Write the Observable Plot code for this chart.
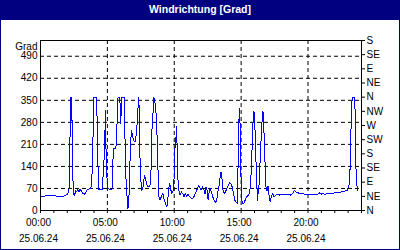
<!DOCTYPE html>
<html><head><meta charset="utf-8">
<script src="https://cdn.jsdelivr.net/npm/d3@7"></script>
<script src="https://cdn.jsdelivr.net/npm/@observablehq/plot@0.6"></script>
<style>
body{margin:0;background:#fff;}
#card{width:400px;height:250px;box-sizing:border-box;border:1px solid #000080;border-top:none;background:#fff;font-family:"Liberation Sans",Arial,sans-serif;overflow:hidden;}
#title{height:20px;background:#000080;color:#fff;font-weight:bold;font-size:10.5px;line-height:19px;text-align:center;}
#chart svg{display:block;}
</style></head><body>
<div id="card"><div id="title">Windrichtung [Grad]</div><div id="chart"></div></div>
<script>
// time of day in hours (25.06.24)
const hours = [
  0.00,0.25,0.50,0.80,1.00,1.20,1.40,1.55,1.70,1.88,2.03,2.13,2.18,2.22,2.28,2.36,2.40,2.46,2.55,2.62,
  2.70,2.78,2.88,2.95,3.05,3.15,3.28,3.40,3.50,3.60,3.72,3.80,3.88,3.95,4.00,4.18,4.24,4.30,4.36,4.45,
  4.53,4.62,4.72,4.80,4.85,4.92,4.98,5.05,5.15,5.35,5.38,5.48,5.60,5.68,5.75,5.80,5.93,6.00,6.07,6.25,
  6.30,6.35,6.43,6.53,6.60,6.68,6.73,6.80,6.85,6.95,7.05,7.10,7.23,7.28,7.35,7.40,7.45,7.55,7.65,7.78,
  7.85,7.90,8.00,8.18,8.28,8.35,8.43,8.48,8.53,8.60,8.68,8.73,8.78,8.85,8.93,9.03,9.15,9.23,9.35,9.45,
  9.50,9.58,9.66,9.73,9.80,9.90,9.98,10.03,10.08,10.10,10.18,10.23,10.28,10.35,10.43,10.53,10.63,10.73,10.83,10.93,
  11.03,11.13,11.23,11.33,11.43,11.53,11.63,11.73,11.83,11.93,12.00,12.10,12.23,12.30,12.38,12.48,12.53,12.63,12.70,12.78,
  12.88,12.98,13.08,13.18,13.28,13.38,13.43,13.50,13.58,13.65,13.73,13.83,13.93,14.03,14.13,14.23,14.33,14.43,14.53,14.63,
  14.73,14.78,14.83,14.87,14.92,14.97,15.02,15.08,15.20,15.30,15.40,15.55,15.65,15.73,15.80,15.85,15.93,15.98,16.05,16.10,
  16.18,16.23,16.28,16.33,16.40,16.50,16.60,16.66,16.72,16.80,16.86,16.90,16.95,17.00,17.05,17.10,17.18,17.25,17.35,17.48,
  17.60,17.73,17.85,18.00,18.50,18.72,18.85,18.98,19.10,19.23,19.50,19.75,20.00,20.25,20.50,20.73,20.85,20.98,21.10,21.23,
  21.48,21.73,21.98,22.23,22.48,22.73,22.93,23.03,23.10,23.15,23.20,23.25,23.30,23.48,23.53,23.58,23.65,23.73
];
// wind direction in degrees
const direction = [
  45,45,48,49,47,46,44,43,45,48,53,65,140,282,360,282,140,50,48,62,
  60,68,60,67,62,55,52,58,66,68,70,75,140,282,360,360,282,140,66,68,
  66,68,139,200,319,139,100,70,68,68,139,197,197,213,319,360,360,277,360,360,
  282,139,70,6,22,139,207,255,245,224,218,218,277,319,360,282,139,64,70,112,
  102,91,75,75,139,282,319,360,345,335,282,213,139,43,33,43,54,38,22,12,
  22,70,85,70,54,59,96,160,229,213,266,170,96,64,49,59,54,43,54,43,
  51,45,41,38,41,49,59,70,80,70,64,75,64,54,75,59,33,64,70,59,
  43,33,25,33,64,86,107,123,96,64,54,59,70,80,88,86,75,54,33,27,
  22,170,277,325,277,139,64,22,22,33,43,49,59,102,170,245,313,313,245,170,
  75,33,64,75,139,234,313,313,234,139,75,64,75,64,75,38,27,43,54,43,
  49,51,49,51,51,49,54,65,59,56,54,52,51,51,52,51,56,52,54,51,
  54,54,56,56,59,61,64,75,86,139,245,293,360,360,309,139,80,64
];
const gradTicks = [0,70,140,210,280,350,420,490];
const compassTicks = [0,45,90,135,180,225,270,315,360,405,450,495,540];
const compassLabels = ["N","NE","E","SE","S","SW","W","NW","N","NE","E","SE","S"];
const hourTicks = d3.range(0,25);
const timeTicks = [0,5,10,15,20];
const timeLabels = ["00:00","05:00","10:00","15:00","20:00"];
const dateLabel = "25.06.24";
const yLabel = "Grad";

const data = hours.map((h,i)=>({h, v: direction[i]}));
const dash = {stroke:"#000", strokeOpacity:1, strokeDasharray:"4,3"};

const chart = Plot.plot({
  width: 398, height: 229,
  marginLeft: 39, marginRight: 38, marginTop: 20, marginBottom: 39,
  style: {fontFamily: "'Liberation Sans', Arial, sans-serif", fontSize: "10px", color: "#000", background: "#fff"},
  x: {domain: [0,24], axis: null},
  y: {domain: [0,540], axis: null},
  marks: [
    Plot.gridY(gradTicks.slice(1), dash),
    Plot.gridX(timeTicks.slice(1), dash),
    Plot.line(data, {x:"h", y:"v", stroke:"#0000ff", strokeWidth:1, shapeRendering:"crispEdges"}),
    Plot.frame({stroke:"#000"}),
    Plot.axisY(gradTicks, {anchor:"left", tickSize:0, tickPadding:3, label:null}),
    Plot.axisY(compassTicks, {anchor:"right", tickSize:3, tickPadding:2, label:null,
      tickFormat: d => compassLabels[compassTicks.indexOf(d)]}),
    Plot.axisX(hourTicks, {anchor:"bottom", tickSize:3, tickFormat: () => "", label:null}),
    Plot.axisX(timeTicks, {anchor:"bottom", tickSize:0, tickPadding:8, dx:-2, label:null,
      tickFormat: d => timeLabels[timeTicks.indexOf(d)]}),
    Plot.axisX(timeTicks, {anchor:"bottom", tickSize:0, tickPadding:24, dx:-2, label:null,
      tickFormat: () => dateLabel}),
    Plot.text([yLabel], {frameAnchor:"top-left", dx:-3, dy:2, textAnchor:"end", fill:"#000"})
  ]
});
document.getElementById("chart").appendChild(chart);
</script>
</body></html>
